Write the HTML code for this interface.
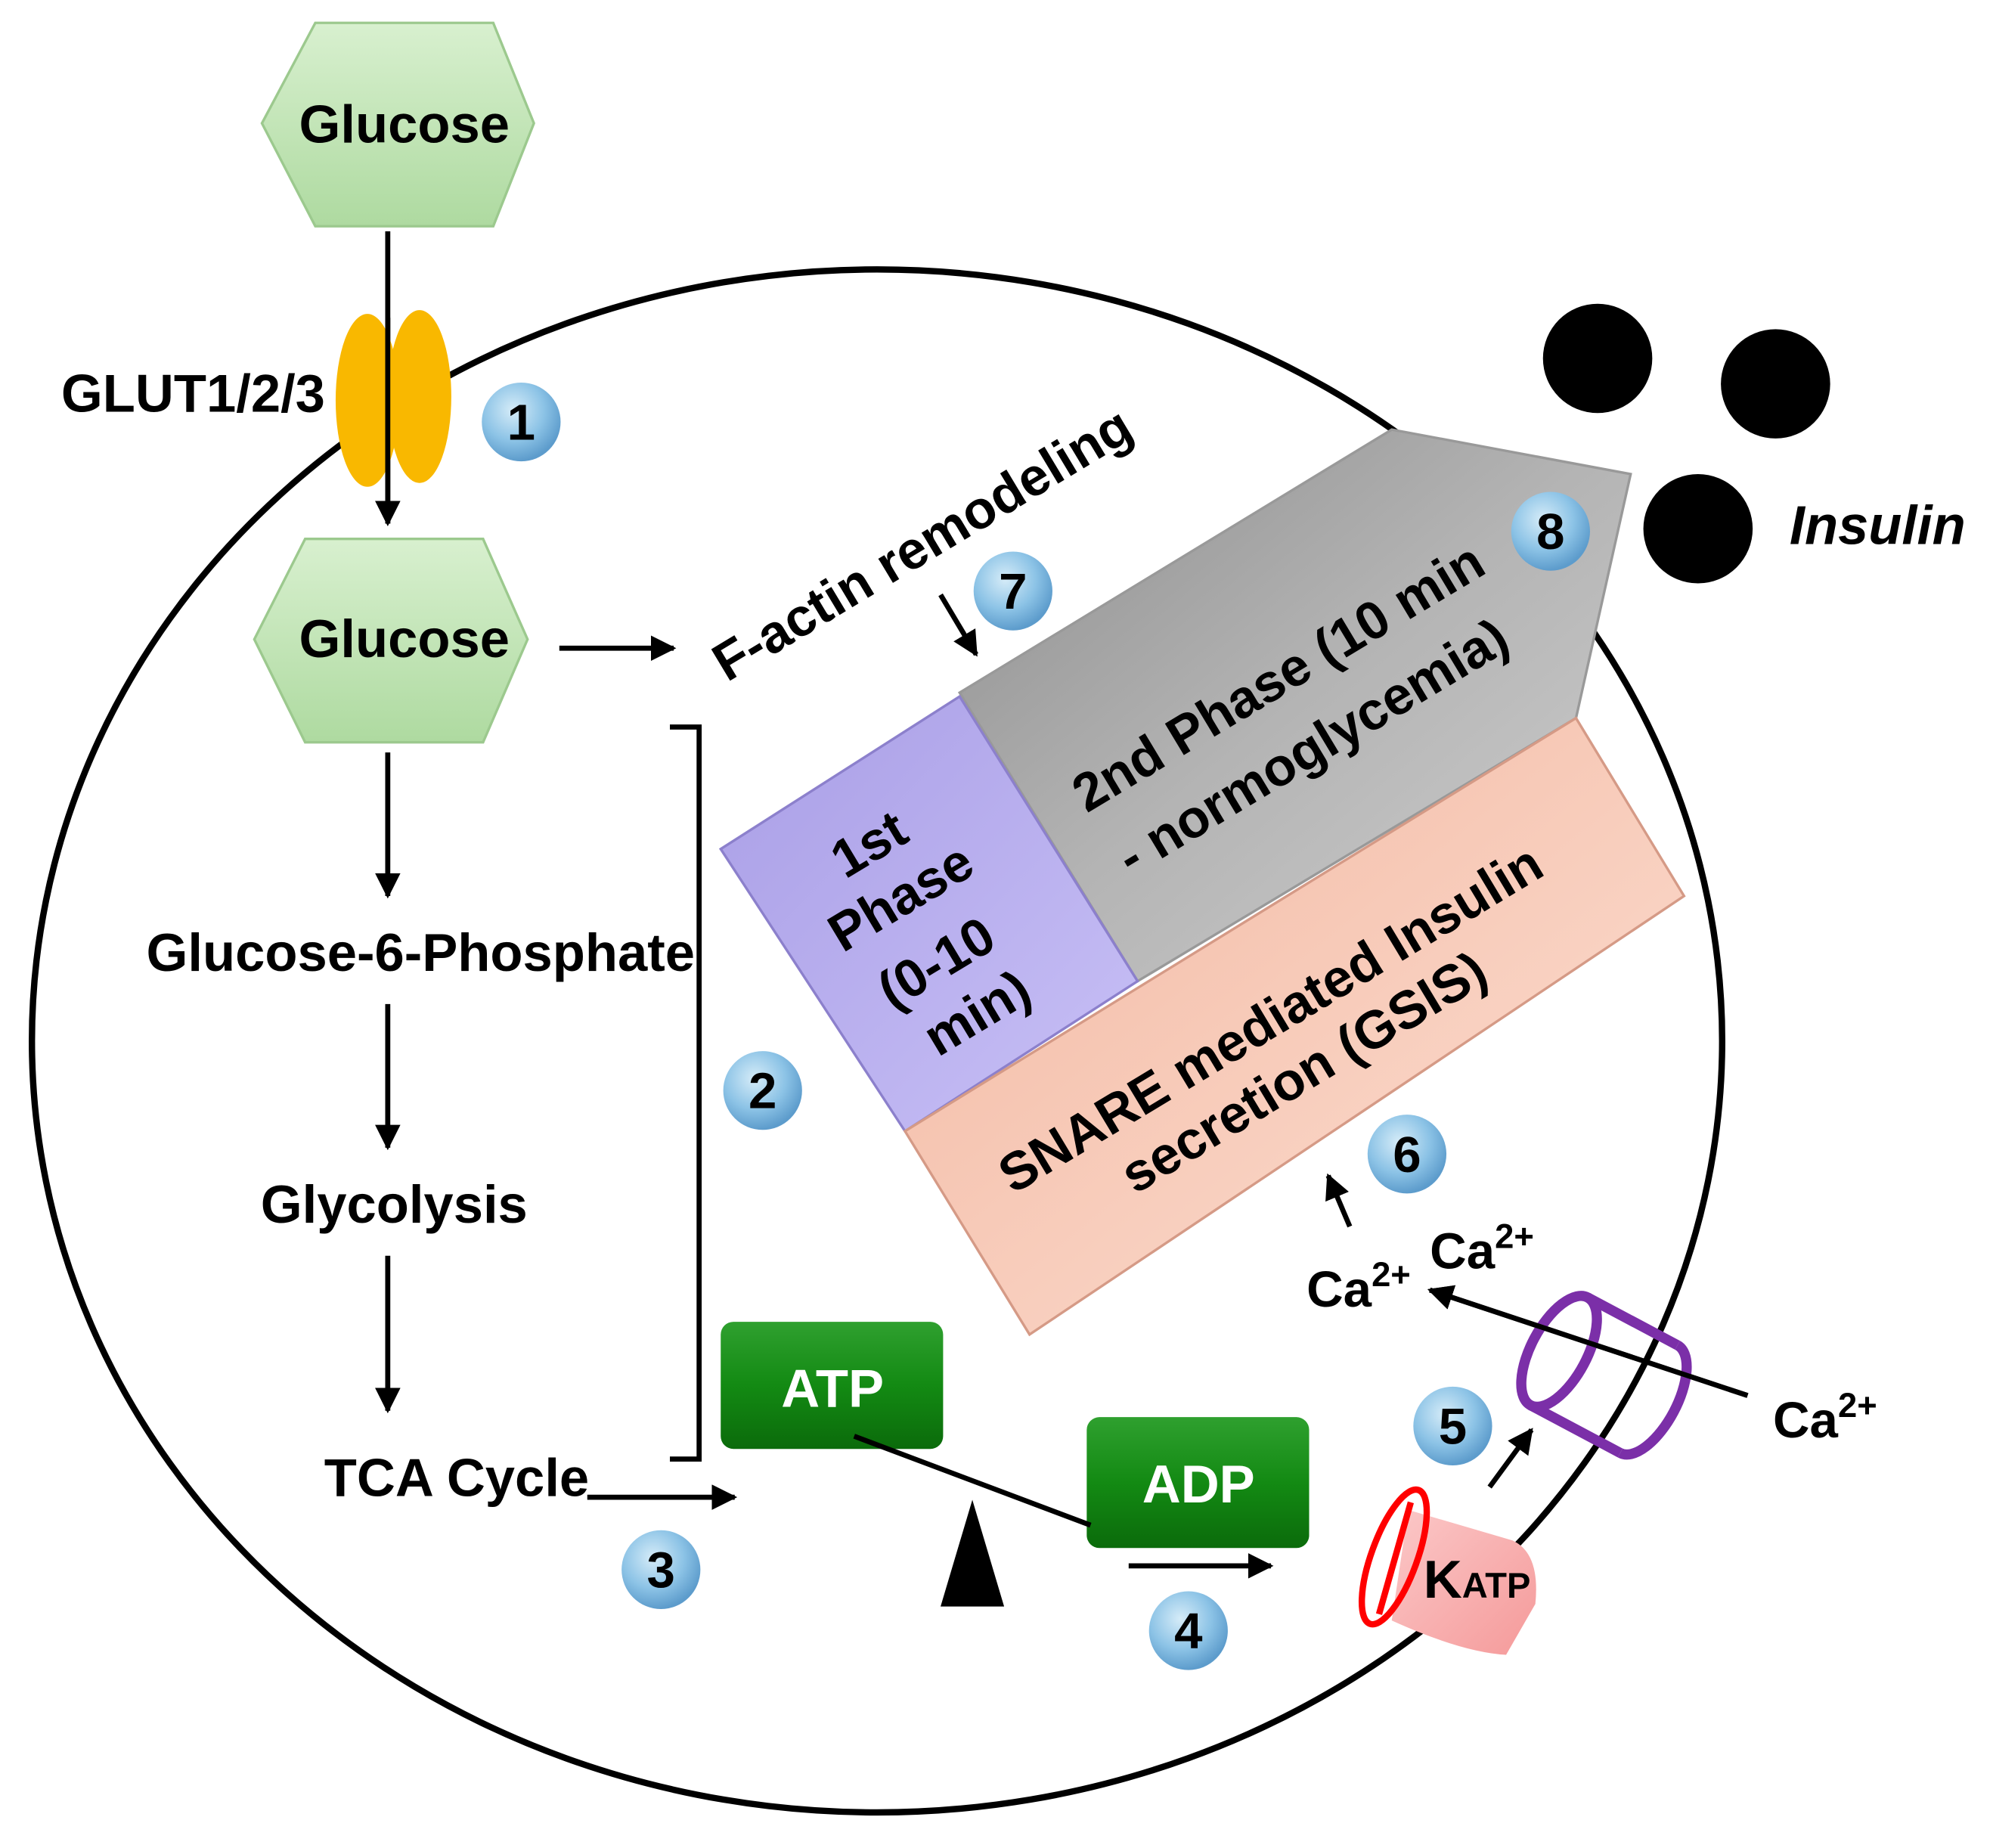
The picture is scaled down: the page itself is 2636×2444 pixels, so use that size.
<!DOCTYPE html>
<html><head><meta charset="utf-8"><style>
html,body{margin:0;padding:0;background:#fff}
svg{display:block}
text{font-family:"Liberation Sans",Arial,sans-serif;font-weight:bold}
</style></head><body>
<svg width="2636" height="2444" viewBox="0 0 1568 1454" xmlns="http://www.w3.org/2000/svg">
<defs>
<radialGradient id="bl" cx="40%" cy="35%" r="65%"><stop offset="0" stop-color="#d6ecf8"/><stop offset="0.6" stop-color="#8cc3e6"/><stop offset="1" stop-color="#5d9ccc"/></radialGradient>
<linearGradient id="hx" x1="0" y1="0" x2="0" y2="1"><stop offset="0" stop-color="#d8f0cf"/><stop offset="1" stop-color="#aedaa0"/></linearGradient>
<linearGradient id="gr" x1="0" y1="0" x2="0" y2="1"><stop offset="0" stop-color="#2fa02f"/><stop offset="0.5" stop-color="#138a13"/><stop offset="1" stop-color="#0b6b0b"/></linearGradient>
<linearGradient id="gy" x1="0" y1="0" x2="1" y2="1"><stop offset="0" stop-color="#8c8c8c"/><stop offset="0.5" stop-color="#b4b4b4"/><stop offset="1" stop-color="#cfcfcf"/></linearGradient>
<linearGradient id="pu" x1="0" y1="0" x2="1" y2="1"><stop offset="0" stop-color="#a99ee6"/><stop offset="1" stop-color="#c8c0f6"/></linearGradient>
<linearGradient id="sa" x1="0" y1="0" x2="1" y2="1"><stop offset="0" stop-color="#f2b7a0"/><stop offset="1" stop-color="#fde0d4"/></linearGradient>
<linearGradient id="pk" x1="0" y1="0" x2="1" y2="1"><stop offset="0" stop-color="#fbc8c8"/><stop offset="1" stop-color="#f59a9a"/></linearGradient>
<marker id="ah" viewBox="0 0 10 10" refX="9" refY="5" markerWidth="5" markerHeight="5" orient="auto"><path d="M0,0 L10,5 L0,10 z" fill="#000"/></marker>
</defs>
<ellipse cx="690" cy="819" rx="665" ry="607" fill="none" stroke="#000" stroke-width="5"/>
<polygon points="248,18 388,18 420,97 388,178 248,178 206,97" fill="url(#hx)" stroke="#9cc98e" stroke-width="2"/>
<text x="318" y="112" font-size="42" text-anchor="middle">Glucose</text>
<polygon points="240,424 380,424 415,503 380,584 240,584 200,503" fill="url(#hx)" stroke="#9cc98e" stroke-width="2"/>
<text x="318" y="517" font-size="42" text-anchor="middle">Glucose</text>
<line x1="305" y1="182" x2="305" y2="412" stroke="#000" stroke-width="4" marker-end="url(#ah)"/>
<ellipse cx="289" cy="315" rx="25" ry="68" fill="#f9b800"/>
<ellipse cx="330" cy="312" rx="25" ry="68" fill="#f9b800"/>
<line x1="305" y1="250" x2="305" y2="412" stroke="#000" stroke-width="4" marker-end="url(#ah)"/>
<text x="48" y="324" font-size="42">GLUT1/2/3</text>
<g stroke="#000" stroke-width="4">
<line x1="305" y1="592" x2="305" y2="705" marker-end="url(#ah)"/>
<line x1="305" y1="790" x2="305" y2="903" marker-end="url(#ah)"/>
<line x1="305" y1="988" x2="305" y2="1110" marker-end="url(#ah)"/>
<line x1="440" y1="510" x2="530" y2="510" marker-end="url(#ah)"/>
<line x1="462" y1="1178" x2="578" y2="1178" marker-end="url(#ah)"/>
<line x1="888" y1="1232" x2="1000" y2="1232" marker-end="url(#ah)"/>
<line x1="740" y1="468" x2="768" y2="515" marker-end="url(#ah)"/>
<line x1="1062" y1="965" x2="1045" y2="925" marker-end="url(#ah)"/>
<line x1="1172" y1="1170" x2="1205" y2="1125" marker-end="url(#ah)"/>
<line x1="1375" y1="1098" x2="1125" y2="1015" marker-end="url(#ah)"/>
</g>
<path d="M527,572 H550 V1148 H527" fill="none" stroke="#000" stroke-width="4"/>
<text x="115" y="764" font-size="42">Glucose-6-Phosphate</text>
<text x="310" y="962" font-size="42" text-anchor="middle">Glycolysis</text>
<text x="255" y="1177" font-size="42">TCA Cycle</text>
<polygon points="755,545 1095,338 1283,373 1240,565 895,772" fill="url(#gy)" stroke="#999" stroke-width="2"/>
<polygon points="567,668 755,548 895,772 712,890" fill="url(#pu)" stroke="#8c80cc" stroke-width="2"/>
<polygon points="712,890 1240,565 1325,705 810,1050" fill="url(#sa)" stroke="#d59a86" stroke-width="2"/>
<g font-size="42">
<text transform="translate(855,640) rotate(-31)">2nd Phase (10 min</text>
<text transform="translate(890,690) rotate(-31)">- normoglycemia)</text>
<text transform="translate(797,940) rotate(-31)">SNARE mediated Insulin</text>
<text transform="translate(893,940) rotate(-31)">secretion (GSIS)</text>
<text transform="translate(665,692) rotate(-31)">1st</text>
<text transform="translate(663,750) rotate(-31)">Phase</text>
<text transform="translate(702,795) rotate(-31)">(0-10</text>
<text transform="translate(738,832) rotate(-31)">min)</text>
<text transform="translate(572,537) rotate(-31)">F-actin remodeling</text>
</g>
<circle cx="1257" cy="282" r="43" fill="#000"/>
<circle cx="1397" cy="302" r="43" fill="#000"/>
<circle cx="1336" cy="416" r="43" fill="#000"/>
<text x="1408" y="428" font-size="43" font-style="italic">Insulin</text>
<rect x="567" y="1040" width="175" height="100" rx="10" fill="url(#gr)"/>
<text x="655" y="1107" font-size="42" fill="#fff" text-anchor="middle">ATP</text>
<rect x="855" y="1115" width="175" height="103" rx="10" fill="url(#gr)"/>
<text x="943" y="1182" font-size="42" fill="#fff" text-anchor="middle">ADP</text>
<line x1="672" y1="1130" x2="858" y2="1200" stroke="#000" stroke-width="4"/>
<polygon points="740,1264 790,1264 765,1180" fill="#000"/>
<path d="M1108,1188 L1190,1212 Q1212,1222 1208,1262 L1185,1302 Q1150,1300 1095,1275 Z" fill="url(#pk)"/>
<ellipse cx="1097" cy="1225" rx="18" ry="56" transform="rotate(20 1097 1225)" fill="none" stroke="#f00" stroke-width="5"/>
<line x1="1110" y1="1182" x2="1085" y2="1270" stroke="#f00" stroke-width="5"/>
<text x="1120" y="1257" font-size="42">K<tspan font-size="28">ATP</tspan></text>
<g transform="rotate(28 1262 1082)" fill="none" stroke="#7b2fa8" stroke-width="8">
<path d="M1222,1034 H1302 M1222,1130 H1302"/>
<ellipse cx="1222" cy="1082" rx="22" ry="48"/>
<path d="M1302,1034 A22,48 0 0 1 1302,1130"/>
</g>
<line x1="1375" y1="1098" x2="1125" y2="1015" stroke="#000" stroke-width="4" marker-end="url(#ah)"/>
<g font-size="40">
<text x="1028" y="1028">Ca<tspan font-size="27" dy="-16">2+</tspan></text>
<text x="1125" y="998">Ca<tspan font-size="27" dy="-16">2+</tspan></text>
<text x="1395" y="1131">Ca<tspan font-size="27" dy="-16">2+</tspan></text>
</g>
<g font-size="40" text-anchor="middle">
<circle cx="410" cy="332" r="31" fill="url(#bl)"/><text x="410" y="346">1</text>
<circle cx="600" cy="858" r="31" fill="url(#bl)"/><text x="600" y="872">2</text>
<circle cx="520" cy="1235" r="31" fill="url(#bl)"/><text x="520" y="1249">3</text>
<circle cx="935" cy="1283" r="31" fill="url(#bl)"/><text x="935" y="1297">4</text>
<circle cx="1143" cy="1122" r="31" fill="url(#bl)"/><text x="1143" y="1136">5</text>
<circle cx="1107" cy="908" r="31" fill="url(#bl)"/><text x="1107" y="922">6</text>
<circle cx="797" cy="465" r="31" fill="url(#bl)"/><text x="797" y="479">7</text>
<circle cx="1220" cy="418" r="31" fill="url(#bl)"/><text x="1220" y="432">8</text>
</g>
</svg>
</body></html>
